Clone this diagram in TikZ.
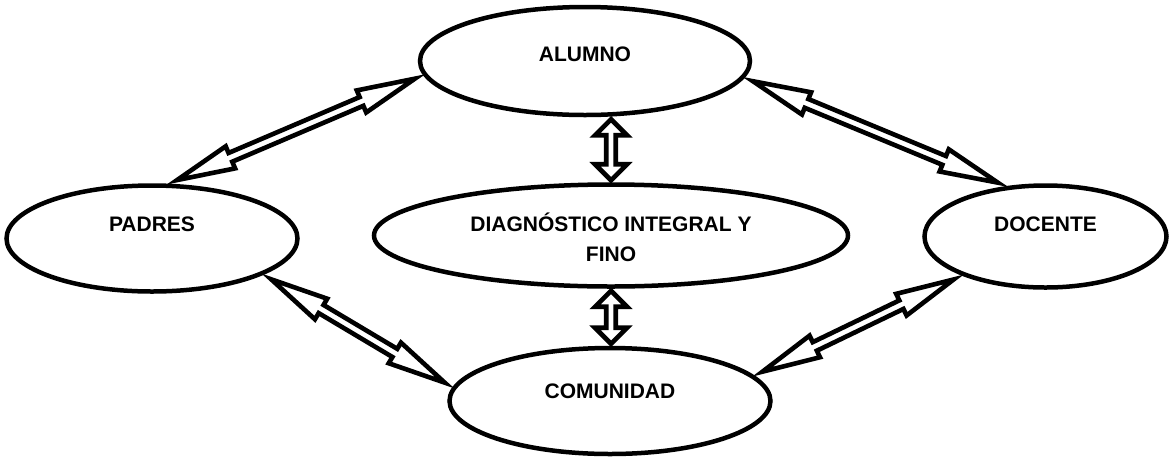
\documentclass[tikz,border=0pt]{standalone}
\usepackage{fontspec}
\setmainfont{Liberation Sans}
\usetikzlibrary{positioning,calc,shapes.geometric}

% hollow two-headed arrow: [pull in], from, to, head length, head half width
\newcommand{\biarrow}[5][0pt]{%
	\coordinate (ta) at ($(#2)!#1!(#3)$);
	\coordinate (tb) at ($(#3)!#1!(#2)$);
	\draw[twoway] (ta)
		-- ($(ta)!#4!(tb)!#5!90:(tb)$) -- ($(ta)!#4!(tb)!4.75pt!90:(tb)$)
		-- ($(tb)!#4!(ta)!4.75pt!-90:(ta)$) -- ($(tb)!#4!(ta)!#5!-90:(ta)$)
		-- (tb)
		-- ($(tb)!#4!(ta)!#5!90:(ta)$) -- ($(tb)!#4!(ta)!4.75pt!90:(ta)$)
		-- ($(ta)!#4!(tb)!4.75pt!-90:(tb)$) -- ($(ta)!#4!(tb)!#5!-90:(tb)$)
		-- cycle;}

\begin{document}
\begin{tikzpicture}[x=1pt,y=-1pt,
	blob/.style={ellipse,draw,line width=4.5pt,inner sep=0pt},
	word/.style={font=\bfseries\fontsize{21}{30}\selectfont,align=center},
	twoway/.style={draw,fill=white,line width=4.6pt}]
		\useasboundingbox (0,0) rectangle (1171,459);

		\node[blob,minimum width=330pt,minimum height=108pt,
			label={[word,name=alumnotxt,yshift=7pt]center:ALUMNO}]						(alumno)	at (585,61) {};
		\node[blob,minimum width=474pt,minimum height=102pt,below=65pt of alumno,xshift=26pt,
			label={[word,name=diagtxt,yshift=-2pt]center:DIAGNÓSTICO INTEGRAL Y\\FINO}]	(diag)		{};
		\node[blob,minimum width=291pt,minimum height=106pt,left=72pt of diag,yshift=-3pt,
			label={[word,name=padrestxt,yshift=14pt]center:PADRES}]					(padres)	{};
		\node[blob,minimum width=242pt,minimum height=102pt,right=72pt of diag,yshift=-1pt,
			label={[word,name=docentetxt,yshift=12pt]center:DOCENTE}]					(docente)	{};
		\node[blob,minimum width=321pt,minimum height=106pt,below=57pt of diag,xshift=-1pt,
			label={[word,name=comunidadtxt,yshift=10pt]center:COMUNIDAD}]				(comunidad)	{};

		\coordinate (up)	at (diag.north |- alumno.south);
		\coordinate (down)	at (diag.south |- comunidad.north);

		\biarrow[9pt]{alumno.185}{padres.73}{58pt}{12pt}
		\biarrow[9pt]{alumno.354}{docente.128}{58pt}{12pt}
		\biarrow[2pt]{up}{diag.north}{16pt}{16pt}
		\biarrow[2pt]{diag.south}{down}{16pt}{16pt}
		\biarrow[9pt]{padres.342}{comunidad.175}{58pt}{12pt}
		\biarrow[9pt]{docente.205}{comunidad.10}{58pt}{12pt}
	\end{tikzpicture}
\end{document}
